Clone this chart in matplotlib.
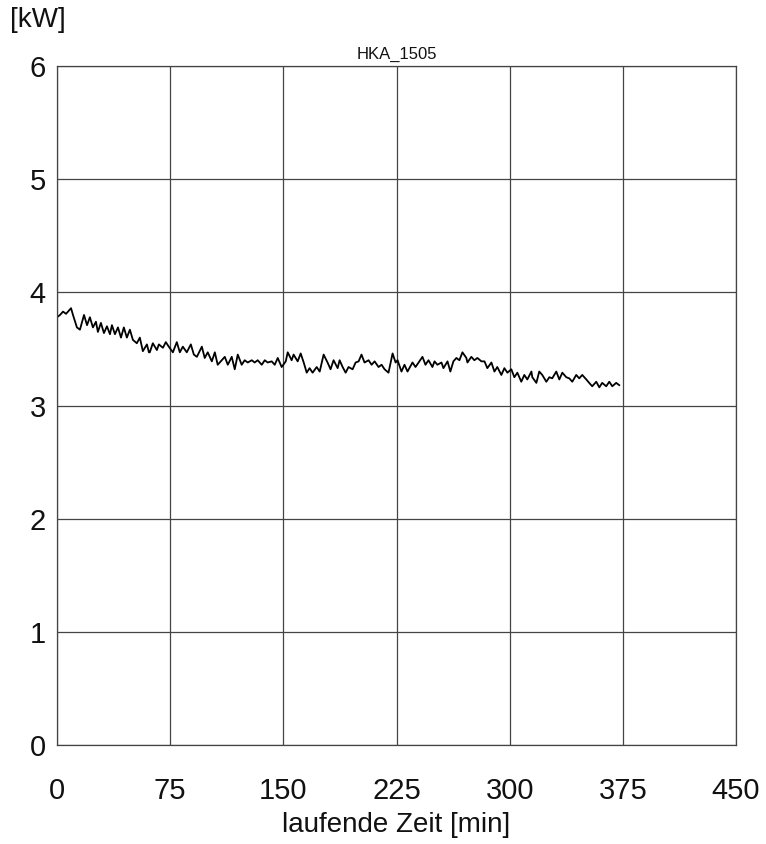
import matplotlib
matplotlib.use("Agg")
import matplotlib.pyplot as plt

# time [min] and power [kW]
time_min = [
    0, 2.0, 4.0, 6.0, 7.3, 9.3, 10.6, 13.2, 15.2, 17.9, 19.9, 21.8, 23.8, 25.8, 27.1, 29.1,
    31.1, 33.1, 35.1, 36.4, 38.4, 40.4, 42.4, 44.3, 46.3, 48.3, 50.3, 52.9, 54.9, 56.9, 59.6, 60.9,
    61.5, 63.5, 66.2, 67.5, 70.2, 72.1, 74.1, 76.8, 79.4, 81.4, 83.4, 86.0, 88.7, 90.7, 92.7,
    96.0, 97.9, 99.9, 102.6, 104.6, 106.5, 109.2, 111.2, 113.2, 115.8, 117.8, 119.8, 122.4,
    124.4, 126.4, 129.1, 131.0, 133.0, 135.7, 137.7, 139.6, 142.3, 144.3, 146.3, 148.9, 151.6,
    152.9, 155.5, 156.8, 159.5, 161.5, 163.5, 165.5, 167.4, 169.4, 172.1, 174.1, 176.7, 179.3,
    181.3, 183.3, 186.0,
    187.3, 189.3, 191.3, 193.2, 195.9, 197.9, 199.9, 201.8, 203.8, 206.5, 208.5, 210.5, 213.1,
    215.1, 217.1, 219.7, 222.4, 224.4, 225.7, 228.3, 230.3, 232.3, 235.6, 237.6, 240.2, 242.2,
    244.2, 246.2, 248.8,
    250.2, 252.1, 254.8, 256.1, 258.8, 260.7, 262.7, 264.7, 266.7, 268.7, 271.3, 272.0, 274.6,
    276.6, 278.6, 281.3, 283.3, 285.2, 287.9, 289.9, 291.8, 294.5, 296.5, 298.5, 301.1, 303.1,
    305.1, 307.7, 309.7, 311.7, 314.4,
    315.0, 317.7, 319.6, 321.6, 324.3, 326.3, 328.2, 330.9, 332.9, 334.9, 337.5, 339.5, 341.5,
    344.1, 346.1, 348.1, 350.8, 352.7, 354.7, 357.4, 359.4, 361.3, 364.0, 366.0, 368.0, 370.6,
    372.6,
]
power_kw = [
    3.78, 3.80, 3.83, 3.81, 3.83, 3.86, 3.80, 3.69, 3.67, 3.80, 3.71, 3.78, 3.69, 3.74, 3.65, 3.73,
    3.64, 3.70, 3.63, 3.71, 3.63, 3.69, 3.60, 3.69, 3.60, 3.67, 3.58, 3.55, 3.60, 3.48, 3.54, 3.47,
    3.47, 3.55, 3.49, 3.54, 3.51, 3.56, 3.52, 3.47, 3.56, 3.47, 3.52, 3.47, 3.54, 3.45, 3.43,
    3.52, 3.42, 3.47, 3.39, 3.47, 3.36, 3.40, 3.43, 3.36, 3.43, 3.32, 3.45, 3.36,
    3.40, 3.38, 3.40, 3.38, 3.40, 3.36, 3.40, 3.38, 3.39, 3.36, 3.42, 3.34, 3.39,
    3.47, 3.40, 3.45, 3.39, 3.46, 3.38, 3.29, 3.33, 3.29, 3.34, 3.30, 3.45, 3.38,
    3.32, 3.40, 3.33,
    3.40, 3.34, 3.29, 3.34, 3.32, 3.38, 3.39, 3.45, 3.38, 3.40, 3.36, 3.39, 3.34,
    3.36, 3.32, 3.29, 3.46, 3.38, 3.40, 3.30, 3.36, 3.30, 3.38, 3.34, 3.39, 3.43,
    3.36, 3.40, 3.34,
    3.39, 3.36, 3.38, 3.33, 3.39, 3.30, 3.39, 3.42, 3.40, 3.47, 3.42, 3.38, 3.43,
    3.40, 3.42, 3.39, 3.39, 3.33, 3.38, 3.30, 3.34, 3.27, 3.33, 3.29, 3.32, 3.25,
    3.29, 3.21, 3.27, 3.23, 3.30,
    3.25, 3.20, 3.30, 3.27, 3.21, 3.25, 3.24, 3.30, 3.23, 3.29, 3.25, 3.24, 3.21,
    3.27, 3.24, 3.27, 3.23, 3.20, 3.17, 3.21, 3.16, 3.20, 3.17, 3.21, 3.17, 3.20,
    3.18,
]
x_ticks = [0, 75, 150, 225, 300, 375, 450]
y_ticks = [0, 1, 2, 3, 4, 5, 6]
title = "HKA_1505"
x_label = "laufende Zeit [min]"
y_label = "[kW]"

plt.rcParams['font.family'] = ['Liberation Sans', 'DejaVu Sans']

fig = plt.figure(figsize=(7.66, 8.44), dpi=100)
ax = fig.add_axes([57/766, 1-745/844, 679/766, 679/844])

ax.plot(time_min, power_kw, color='black', linewidth=1.3)

ax.set_xlim(0, 450)
ax.set_ylim(0, 6)
ax.set_xticks(x_ticks)
ax.set_yticks(y_ticks)
ax.grid(True, color='#444444', linewidth=0.9)
ax.set_axisbelow(True)
for s in ax.spines.values():
    s.set_color('#444444')
    s.set_linewidth(0.9)

ax.tick_params(axis='x', length=0, pad=23, labelsize=21, colors='#111111')
ax.tick_params(axis='y', length=0, pad=8, labelsize=21, colors='#111111')

ax.set_title(title, fontsize=12, pad=5, color='#111111')
ax.set_xlabel(x_label, fontsize=20, labelpad=5, color='#111111')
fig.text(38/766, 1-20/844, y_label, fontsize=20, ha='center', va='center', color='#111111')

fig.savefig("out.png", dpi=100)
